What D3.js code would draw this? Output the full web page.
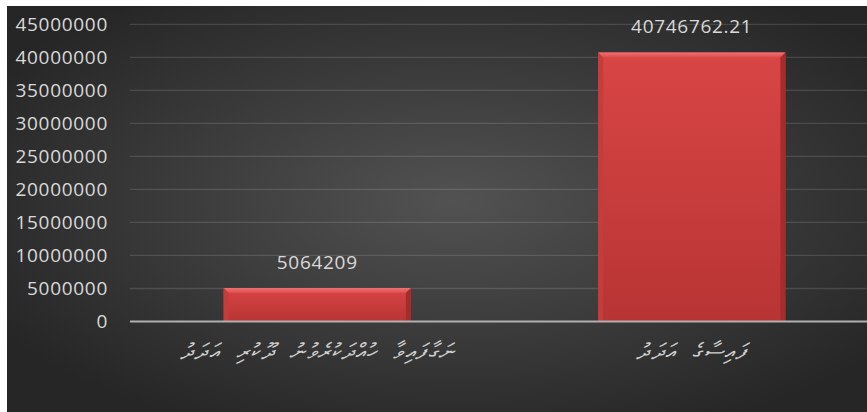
<!DOCTYPE html>
<html><head><meta charset="utf-8">
<script src="https://cdn.jsdelivr.net/npm/d3@7"></script>
<style>
html,body{margin:0;padding:0;background:#fff;}
svg{display:block;}
</style></head>
<body>
<svg id="chart" width="867" height="412"></svg>
<script>
const categories = ["ނަގާފައިވާ ހުއްދަކުރެވުނު ދޫކުރި އަދަދު", "ފައިސާގެ އަދަދު"];
const values = [5064209, 40746762.21];
const valueLabels = ["5064209", "40746762.21"];
const tickValues = [0, 5000000, 10000000, 15000000, 20000000, 25000000, 30000000, 35000000, 40000000, 45000000];

const W = 867, H = 412;
const svg = d3.select("#chart");
const defs = svg.append("defs");

const bg = defs.append("radialGradient").attr("id","bg")
  .attr("cx","52%").attr("cy","48%").attr("r","62%");
bg.append("stop").attr("offset","0%").attr("stop-color","#525252");
bg.append("stop").attr("offset","100%").attr("stop-color","#262626");

const bar = defs.append("linearGradient").attr("id","barg").attr("x1",0).attr("y1",0).attr("x2",0).attr("y2",1);
bar.append("stop").attr("offset","0%").attr("stop-color","#d94545");
bar.append("stop").attr("offset","100%").attr("stop-color","#b83434");

const topBev = defs.append("linearGradient").attr("id","topb").attr("x1",0).attr("y1",0).attr("x2",0).attr("y2",1);
topBev.append("stop").attr("offset","0%").attr("stop-color","#f07272");
topBev.append("stop").attr("offset","100%").attr("stop-color","#dd4c4c");

svg.append("rect").attr("x",7).attr("y",6).attr("width",W-7).attr("height",H-6).attr("fill","url(#bg)");

const x = d3.scaleBand().domain(categories).range([130, 879]).paddingInner(0.5).paddingOuter(0.25);
const y = d3.scaleLinear().domain([0, 45000000]).range([321.5, 24.3]);

// gridlines
svg.append("g").selectAll("line").data(tickValues.filter(v => v > 0)).join("line")
  .attr("x1",130).attr("x2",W).attr("y1",d=>y(d)).attr("y2",d=>y(d))
  .attr("stroke","rgba(255,255,255,0.13)").attr("stroke-width",1.3);

// y axis labels
const yAxis = d3.axisLeft(y).tickValues(tickValues).tickFormat(d3.format("d")).tickSize(0).tickPadding(0);
const ya = svg.append("g").attr("transform","translate(108,0)").call(yAxis);
ya.select(".domain").remove();
ya.selectAll("text").attr("fill","#d9d9d9").attr("font-family","'Open Sans', sans-serif")
  .attr("font-size",19).attr("letter-spacing","0.7px").attr("dy","0.34em");

// bars
const bev = 5;
const g = svg.append("g");
categories.forEach((c,i) => {
  const x0 = x(c), bw = x.bandwidth(), y0 = y(values[i]), y1 = y(0);
  const gg = g.append("g");
  gg.append("rect").attr("x",x0).attr("y",y0).attr("width",bw).attr("height",y1-y0).attr("fill","url(#barg)");
  gg.append("path").attr("d",`M${x0},${y0}L${x0+bw},${y0}L${x0+bw-bev},${y0+bev}L${x0+bev},${y0+bev}Z`).attr("fill","url(#topb)");
  gg.append("path").attr("d",`M${x0},${y0}L${x0+bev},${y0+bev}L${x0+bev},${y1}L${x0},${y1}Z`).attr("fill","#c43c3c");
  gg.append("path").attr("d",`M${x0+bw},${y0}L${x0+bw-bev},${y0+bev}L${x0+bw-bev},${y1}L${x0+bw},${y1}Z`).attr("fill","#a52c2c");
  svg.append("text").attr("x",x0+bw/2).attr("y",y0-26).attr("dy","0.34em")
    .attr("text-anchor","middle").attr("fill","#d9d9d9")
    .attr("font-family","'Open Sans', sans-serif").attr("font-size",19).attr("letter-spacing","0.7px")
    .text(valueLabels[i]);
});

// baseline
svg.append("line").attr("x1",130).attr("x2",W).attr("y1",y(0)).attr("y2",y(0))
  .attr("stroke","#b0b0b0").attr("stroke-width",2);

// category labels
const xa = svg.append("g").attr("transform",`translate(0,${y(0)})`).call(d3.axisBottom(x).tickSize(0).tickPadding(0));
xa.select(".domain").remove();
xa.selectAll("text").attr("y",30).attr("dy","0.34em").attr("fill","#d0d0d0")
  .attr("font-family","'Noto Sans', 'DejaVu Sans', sans-serif").attr("font-size",22)
  .attr("letter-spacing","1.5px").attr("word-spacing","8px")
  .attr("font-style","italic").attr("direction","rtl").attr("text-anchor","middle");
</script>
</body></html>
